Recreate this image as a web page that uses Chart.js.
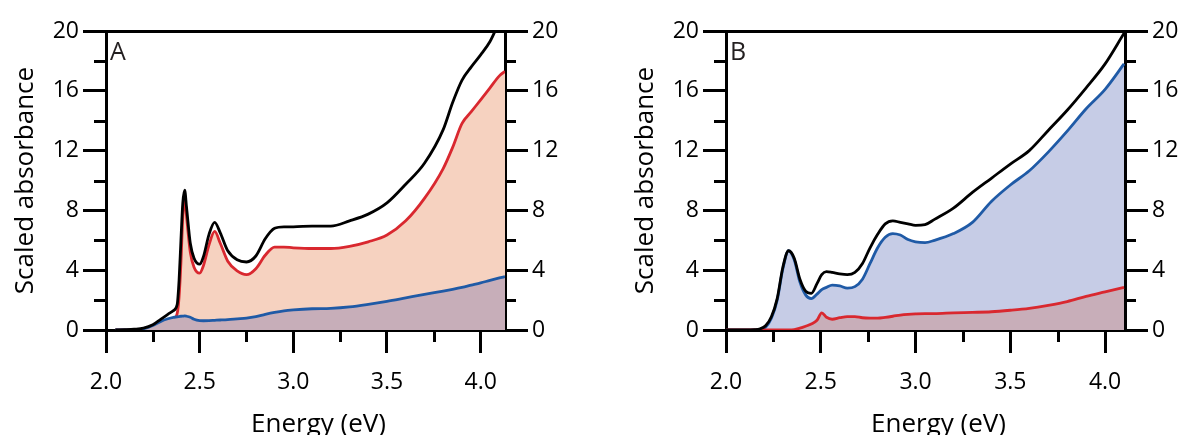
<!DOCTYPE html>
<html>
<head>
<meta charset="utf-8">
<script src="https://cdn.jsdelivr.net/npm/chart.js@4.4.0/dist/chart.umd.min.js"></script>
<style>
  body { margin: 0; background: #fff; width: 1187px; height: 435px; overflow: hidden; position: relative; }
  .panel { position: absolute; top: 0; width: 567px; height: 435px; }
</style>
</head>
<body>
<div class="panel" style="left:0"><canvas id="chartA" width="567" height="435"></canvas></div>
<div class="panel" style="left:620px"><canvas id="chartB" width="567" height="435"></canvas></div>
<script>
// panel A
const energyA = [2.05, 2.1, 2.15, 2.2, 2.25, 2.29, 2.33, 2.36, 2.38, 2.39, 2.4, 2.41, 2.42, 2.43, 2.45,
  2.47, 2.5, 2.52, 2.55, 2.58, 2.61, 2.65, 2.7, 2.75, 2.8, 2.85, 2.9, 2.95, 3.0, 3.1,
  3.2, 3.3, 3.4, 3.5, 3.6, 3.7, 3.8, 3.85, 3.9, 3.95, 4.0, 4.05, 4.1, 4.13];
const blackA = [0, 0.02, 0.05, 0.12, 0.35, 0.7, 1.05, 1.3, 1.7, 3.3, 6.0, 8.5, 9.35, 8.2, 5.8,
  4.8, 4.4, 4.9, 6.4, 7.2, 6.5, 5.3, 4.7, 4.55, 4.95, 6.1, 6.8, 6.9, 6.9, 6.95,
  6.95, 7.3, 7.75, 8.5, 9.75, 11.15, 13.4, 15.2, 16.7, 17.6, 18.4, 19.3, 20.6, 21.2];
const redA = [0, 0.01, 0.03, 0.06, 0.12, 0.25, 0.5, 0.7, 1.1, 2.2, 4.5, 7.6, 8.8, 7.6, 5.2,
  4.2, 3.8, 4.3, 5.7, 6.6, 5.8, 4.6, 3.95, 3.7, 4.1, 5.0, 5.55, 5.55, 5.5, 5.45,
  5.45, 5.6, 5.9, 6.35, 7.3, 8.8, 10.8, 12.2, 13.8, 14.6, 15.4, 16.2, 17.0, 17.3];
const blueA = [0, 0, 0.02, 0.08, 0.3, 0.56, 0.75, 0.85, 0.88, 0.9, 0.92, 0.93, 0.94, 0.92, 0.85,
  0.72, 0.63, 0.62, 0.63, 0.65, 0.67, 0.7, 0.75, 0.8, 0.9, 1.05, 1.18, 1.28, 1.34, 1.42,
  1.45, 1.55, 1.72, 1.92, 2.15, 2.38, 2.6, 2.72, 2.85, 3.0, 3.15, 3.32, 3.48, 3.57];

// panel B
const energyB = [2.0, 2.05, 2.1, 2.15, 2.18, 2.21, 2.24, 2.27, 2.3, 2.33, 2.36, 2.39, 2.42, 2.45, 2.48,
  2.505, 2.53, 2.56, 2.6, 2.64, 2.68, 2.72, 2.76, 2.8, 2.84, 2.88, 2.92, 2.96, 3.0, 3.05,
  3.1, 3.2, 3.3, 3.4, 3.5, 3.6, 3.7, 3.8, 3.9, 4.0, 4.1];
const blackB = [0, 0, 0, 0.02, 0.08, 0.3, 0.9, 2.1, 4.2, 5.3, 4.8, 3.4, 2.6, 2.45, 3.1,
  3.7, 3.9, 3.85, 3.75, 3.7, 3.85, 4.45, 5.5, 6.4, 7.1, 7.3, 7.2, 7.1, 7.0, 7.05,
  7.4, 8.15, 9.2, 10.15, 11.1, 12.0, 13.35, 14.7, 16.2, 17.8, 19.85];
const blueB = [0, 0, 0, 0.01, 0.05, 0.2, 0.8, 2.0, 4.1, 5.3, 4.7, 3.2, 2.35, 2.1, 2.4,
  2.7, 2.85, 3.0, 2.95, 2.8, 2.9, 3.4, 4.45, 5.5, 6.2, 6.45, 6.35, 6.05, 5.9, 5.85,
  6.0, 6.45, 7.2, 8.6, 9.7, 10.65, 11.9, 13.3, 14.8, 16.1, 17.8];
const redB = [0, 0, 0, 0, 0, 0, 0, 0, 0, 0, 0.02, 0.12, 0.25, 0.4, 0.65,
  1.15, 0.85, 0.72, 0.82, 0.9, 0.9, 0.82, 0.8, 0.8, 0.85, 0.92, 1.0, 1.05, 1.08, 1.1,
  1.1, 1.15, 1.18, 1.22, 1.32, 1.45, 1.65, 1.9, 2.25, 2.55, 2.85];

const yMinor = [2, 6, 10, 14, 18];
const xMinor = [2.25, 2.75, 3.25, 3.75];

const BLACK = '#000';
const RED = '#d9282f';
const BLUE = '#1f5aa6';

const font = 'Open Sans';

// minor ticks, x title and panel letter
const extras = {
  id: 'extras',
  afterDraw(chart, args, opts) {
    const ctx = chart.ctx;
    const {x, y, y2} = chart.scales;
    const area = chart.chartArea;
    ctx.save();
    ctx.strokeStyle = BLACK;
    ctx.lineWidth = 3;
    ctx.beginPath();
    yMinor.forEach(v => {
      const py = Math.round(y.getPixelForValue(v)) + 0.5;
      ctx.moveTo(y.right - 12, py); ctx.lineTo(y.right, py);
      ctx.moveTo(y2.left, py); ctx.lineTo(y2.left + 11, py);
    });
    xMinor.forEach(v => {
      const px = Math.round(x.getPixelForValue(v)) + 0.5;
      ctx.moveTo(px, x.top); ctx.lineTo(px, x.top + 12);
    });
    ctx.stroke();

    ctx.fillStyle = BLACK;
    ctx.font = '26px "' + font + '"';
    ctx.textAlign = 'center';
    ctx.textBaseline = 'alphabetic';
    ctx.fillText('Energy (eV)', (area.left + area.right) / 2 + 13, 432);

    ctx.fillStyle = '#231f20';
    ctx.font = '25px "' + font + '"';
    ctx.textAlign = 'left';
    ctx.fillText(opts.letter, area.left + 4, area.top + 29);
    ctx.restore();
  }
};

function pts(energy, vals) {
  return energy.map((e, i) => ({x: e, y: vals[i]}));
}

function line(energy, vals, color, fillColor) {
  return {
    data: pts(energy, vals),
    borderColor: color,
    borderWidth: 2.8,
    pointRadius: 0,
    tension: 0.4,
    cubicInterpolationMode: 'monotone',
    fill: fillColor ? 'origin' : false,
    backgroundColor: fillColor || 'transparent'
  };
}

function makeScales(xMax) {
  const frame = c => (c.tick && (c.tick.value === 0 || c.tick.value === 20)) ? BLACK : 'rgba(0,0,0,0)';
  const tickFont = {family: font, size: 23};
  const yTicks = {stepSize: 4, color: BLACK, font: tickFont, padding: 4};
  return {
    x: {
      type: 'linear', min: 2, max: xMax, z: 1,
      border: {display: true, color: BLACK, width: 3},
      grid: {drawOnChartArea: false, tickLength: 23, tickWidth: 3, tickColor: BLACK, color: BLACK, lineWidth: 3},
      ticks: {stepSize: 0.5, includeBounds: false, color: BLACK, font: tickFont, padding: 16, maxRotation: 0,
        callback: v => v.toFixed(1)},
      afterFit: s => { s.height = 105; }
    },
    y: {
      position: 'left', min: 0, max: 20, z: 1,
      border: {display: true, color: BLACK, width: 3},
      grid: {color: frame, lineWidth: 3, tickLength: 23, tickWidth: 3, tickColor: BLACK},
      ticks: yTicks,
      title: {display: true, text: 'Scaled absorbance', color: BLACK, font: {family: font, size: 26}, padding: {top: 10, bottom: 0}},
      afterFit: s => { s.width = 106; }
    },
    y2: {
      position: 'right', min: 0, max: 20, z: 1,
      border: {display: true, color: BLACK, width: 3},
      grid: {drawOnChartArea: false, tickLength: 23, tickWidth: 3, tickColor: BLACK},
      ticks: yTicks,
      afterFit: s => { s.width = 62; }
    }
  };
}

function makeChart(id, datasets, letter, xMax) {
  return new Chart(document.getElementById(id), {
    type: 'line',
    data: {datasets: datasets},
    options: {
      responsive: false,
      animation: false,
      layout: {padding: {top: 31, left: 0, right: 0, bottom: 0}},
      plugins: {legend: {display: false}, tooltip: {enabled: false}, extras: {letter: letter}},
      scales: makeScales(xMax)
    },
    plugins: [extras]
  });
}

// first dataset is drawn on top
makeChart('chartA', [
  line(energyA, blackA, BLACK, null),
  line(energyA, blueA, BLUE, '#c7aeb9'),
  line(energyA, redA, RED, '#f6d2c0')
], 'A', 4.13);

makeChart('chartB', [
  line(energyB, blackB, BLACK, null),
  line(energyB, redB, RED, '#c8aeb9'),
  line(energyB, blueB, BLUE, '#c6cce6')
], 'B', 4.105);
</script>
</body>
</html>
